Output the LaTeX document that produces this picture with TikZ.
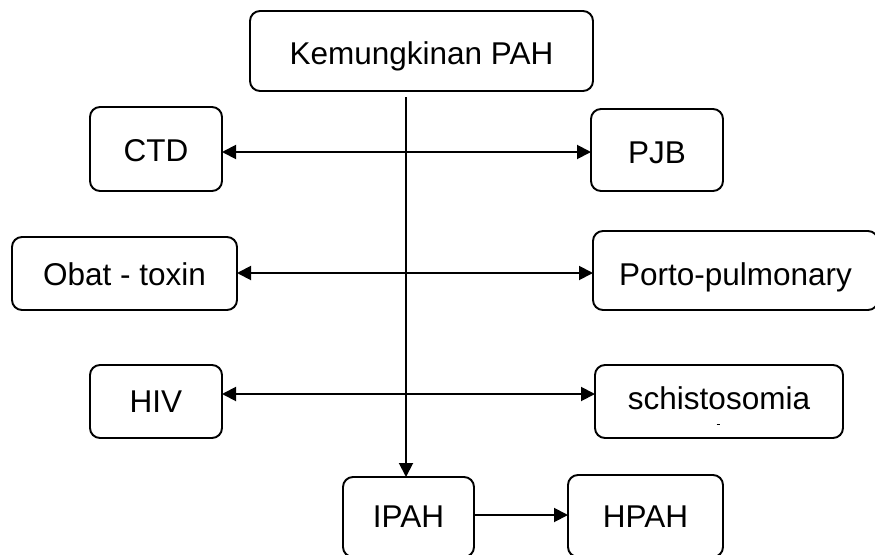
\documentclass[tikz,border=0pt]{standalone}
\usepackage{fontspec}
\setmainfont{Liberation Sans}
\usetikzlibrary{arrows.meta}
\begin{document}
\begin{tikzpicture}[x=1pt,y=-1pt,
  box/.style={draw, line width=1.9pt, rounded corners=10pt, inner sep=0pt, outer sep=0pt,
    font=\fontsize{31.5}{36}\selectfont, text depth=0pt, text height=22.5pt},
  % shift of the label's cap line inside its box
  lift/.style={text height=#1pt},
  conn/.style={line width=1.9pt, arrows={-Triangle[length=14pt,width=14pt]}},
  dconn/.style={line width=1.9pt, arrows={Triangle[length=14pt,width=14pt]-Triangle[length=14pt,width=14pt]}}]
\useasboundingbox (0,0) rectangle (875,554);
\clip (0,0) rectangle (875,554);
% top node
\node[box, lift=27.5, minimum width=343pt, minimum height=80pt] (kem) at (421.5,51) {Kemungkinan PAH};
% left column
\node[box, lift=25.5, minimum width=132pt, minimum height=84pt] (ctd) at (156,149) {CTD};
\node[box, lift=24.5, minimum width=225pt, minimum height=73pt] (obat) at (124.5,273.5) {Obat - toxin};
\node[box, lift=22.5, minimum width=132pt, minimum height=73pt] (hiv) at (156,401.5) {HIV};
% right column
\node[box, lift=27.5, minimum width=132pt, minimum height=82pt] (pjb) at (657,150) {PJB};
\node[box, lift=29.5, minimum width=285pt, minimum height=79pt] (porto) at (735.5,270.5) {Porto-pulmonary};
\node[box, lift=15, minimum width=248pt, minimum height=73pt] (schisto) at (719,401.5) {schistosomia};
\draw[line width=0.8pt] (716.5,424) -- (719.5,424);
% bottom row
\node[box, lift=20.5, minimum width=131pt, minimum height=80pt] (ipah) at (408.5,517) {IPAH};
\node[box, lift=22.5, minimum width=155pt, minimum height=82pt] (hpah) at (645.5,516) {HPAH};
% vertical trunk
\coordinate (vtop) at (406,97);
\draw[conn] (vtop) -- (vtop |- ipah.north);
% horizontal links
\draw[dconn] ([yshift=-3pt]ctd.east) coordinate (c1) -- (c1 -| pjb.west);
\draw[dconn] ([yshift=0.5pt]obat.east) coordinate (c2) -- (c2 -| porto.west);
\draw[dconn] ([yshift=7.5pt]hiv.east) coordinate (c3) -- (c3 -| schisto.west);
\draw[conn] ([yshift=2pt]ipah.east) coordinate (c4) -- (c4 -| hpah.west);
\end{tikzpicture}
\end{document}
